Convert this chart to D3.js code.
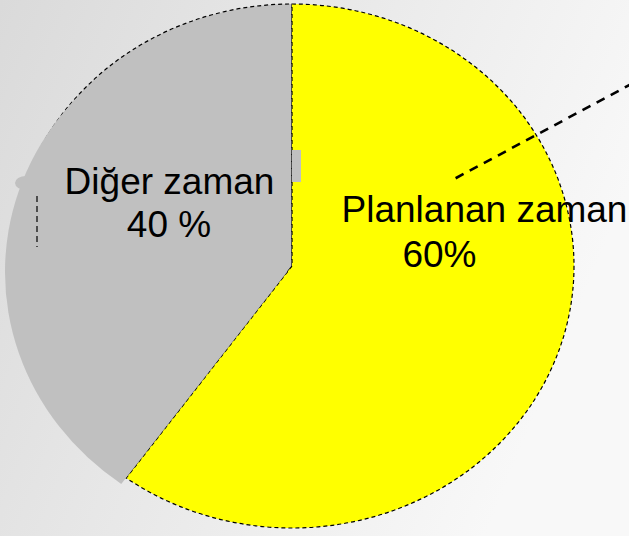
<!DOCTYPE html>
<html>
<head>
<meta charset="utf-8">
<script src="https://cdn.jsdelivr.net/npm/d3@7"></script>
<style>
  html, body { margin: 0; padding: 0; }
  body { width: 629px; height: 536px; overflow: hidden; }
  text { font-family: "Liberation Sans", Arial, sans-serif; }
</style>
</head>
<body>
<div id="chart"></div>
<script>
// data
const categories = ['Planlanan zaman', 'Diğer zaman'];
const values = [60, 40];
const valueLabels = ['60%', '40 %'];
const colors = ['#ffff00', '#c0c0c0'];

const width = 629, height = 536;
const cx = 292, cy = 266;     // pie center
const rx = 282, ry = 262;     // pie is drawn a bit squashed
const ky = ry / rx;

const svg = d3.select('#chart').append('svg')
  .attr('width', width)
  .attr('height', height)
  .attr('viewBox', [0, 0, width, height]);

// background gradient
const defs = svg.append('defs');
const bg = defs.append('linearGradient')
  .attr('id', 'bg')
  .attr('x1', 0).attr('y1', 0).attr('x2', 1).attr('y2', 0.35);
bg.append('stop').attr('offset', '0%').attr('stop-color', '#dadada');
bg.append('stop').attr('offset', '100%').attr('stop-color', '#f8f8f8');
svg.append('rect').attr('width', width).attr('height', height).attr('fill', 'url(#bg)');

const pie = d3.pie().sort(null).value(d => d)(values);
const arc = d3.arc().innerRadius(0).outerRadius(rx);

// point at angle a (clockwise from top), fraction k of radius
function pt(a, k) {
  return [cx + k * rx * Math.sin(a), cy - k * ry * Math.cos(a)];
}

const g = svg.append('g').attr('transform', `translate(${cx},${cy}) scale(1,${ky})`);

// gray slice first (with dashed outline)
g.append('path')
  .attr('d', arc(pie[1]))
  .attr('fill', colors[1])
  .attr('stroke', '#000')
  .attr('stroke-width', 1.2)
  .attr('stroke-dasharray', '4,3')
  .attr('vector-effect', 'non-scaling-stroke');

// the gray slice is a bit pulled out to the left
svg.append('path')
  .attr('transform', `translate(${cx - 5},${cy + 6}) scale(1,${ky})`)
  .attr('d', arc(pie[1]))
  .attr('fill', colors[1]);

// small bumps left over on the gray slice
svg.append('rect')
  .attr('x', cx).attr('y', cy - 116)
  .attr('width', 9).attr('height', 32)
  .attr('fill', colors[1]);
svg.append('ellipse')
  .attr('cx', 26).attr('cy', cy - 83)
  .attr('rx', 11).attr('ry', 7)
  .attr('fill', colors[1]);

// yellow slice on top
g.append('path')
  .attr('d', arc(pie[0]))
  .attr('fill', colors[0])
  .attr('stroke', '#000')
  .attr('stroke-width', 1.2)
  .attr('stroke-dasharray', '4,3')
  .attr('vector-effect', 'non-scaling-stroke');

// leader line of the yellow label
const la = Math.PI / 3;
const p0 = pt(la, 0.67), p1 = pt(la, 1.42);
svg.append('line')
  .attr('x1', p0[0]).attr('y1', p0[1])
  .attr('x2', p1[0]).attr('y2', p1[1])
  .attr('stroke', '#000')
  .attr('stroke-width', 2.6)
  .attr('stroke-dasharray', '9,7');

// short dashed tick next to the gray label
svg.append('line')
  .attr('x1', cx - 255).attr('y1', cy - 70)
  .attr('x2', cx - 255).attr('y2', cy - 19)
  .attr('stroke', '#000')
  .attr('stroke-width', 1.2)
  .attr('stroke-dasharray', '6,4');

// labels
const labelPos = [
  { x: 484.5, y: 222, vx: 439.5, vy: 267 },
  { x: 169.5, y: 194, vx: 169, vy: 237 }
];
categories.forEach((c, i) => {
  svg.append('text')
    .attr('x', labelPos[i].x).attr('y', labelPos[i].y)
    .attr('text-anchor', 'middle')
    .attr('font-size', 37)
    .attr('fill', '#000')
    .text(c);
  svg.append('text')
    .attr('x', labelPos[i].vx).attr('y', labelPos[i].vy)
    .attr('text-anchor', 'middle')
    .attr('font-size', 37)
    .attr('fill', '#000')
    .text(valueLabels[i]);
});
</script>
</body>
</html>
